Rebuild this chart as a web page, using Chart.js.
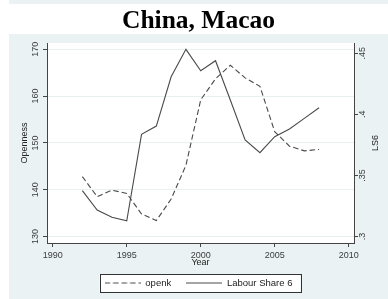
<!DOCTYPE html>
<html>
<head>
<meta charset="utf-8">
<script src="https://cdn.jsdelivr.net/npm/chart.js@4.4.0/dist/chart.umd.min.js"></script>
<style>
  html, body { margin: 0; padding: 0; background: #ffffff; }
  #c { display: block; }
</style>
</head>
<body>
<canvas id="c" width="388" height="299"></canvas>
<script>
// ---- data ----
const years = [1992, 1993, 1994, 1995, 1996, 1997, 1998, 1999, 2000, 2001, 2002, 2003, 2004, 2005, 2006, 2007, 2008];
const openk = [142.8, 138.5, 139.9, 139.2, 134.8, 133.4, 138.0, 145.2, 159.2, 163.7, 166.6, 163.9, 162.1, 152.4, 149.3, 148.3, 148.6];
const labourShare6 = [0.3375, 0.3217, 0.3157, 0.3129, 0.3836, 0.3904, 0.4308, 0.4532, 0.4357, 0.4439, 0.4117, 0.3790, 0.3686, 0.3817, 0.3880, 0.3967, 0.4054];
const xTicks = [1990, 1995, 2000, 2005, 2010];
const leftTicks = [130, 140, 150, 160, 170];
const rightTicks = [0.3, 0.35, 0.4, 0.45];
const seriesNames = ['openk', 'Labour Share 6'];
const titleText = 'China, Macao';
const xTitle = 'Year';
const leftTitle = 'Openness';
const rightTitle = 'LS6';

Chart.defaults.font.family = "'Liberation Sans', Arial, sans-serif";

const BG = '#eaf2f3';
const lineColor = '#4a4a4a';
const axisColor = '#444444';
const tickColor = '#3c3c3c';
const DASH = [5.5, 3];

function legendSample(dash) {
  const c = document.createElement('canvas');
  c.width = 36;
  c.height = 3;
  const g = c.getContext('2d');
  g.strokeStyle = lineColor;
  g.lineWidth = 1.1;
  g.setLineDash(dash);
  g.beginPath();
  g.moveTo(0, 1.5);
  g.lineTo(36, 1.5);
  g.stroke();
  return c;
}

const bgPlugin = {
  id: 'bg',
  beforeDraw(chart) {
    const ctx = chart.ctx;
    const W = chart.width, H = chart.height;
    const a = chart.chartArea;
    ctx.save();
    ctx.fillStyle = '#ffffff';
    ctx.fillRect(0, 0, W, H);
    ctx.fillStyle = BG;
    ctx.fillRect(9, 0, W - 9, 4);
    ctx.fillRect(9, 34, W - 9, H - 34);
    ctx.fillStyle = '#ffffff';
    ctx.fillRect(a.left, a.top, a.right - a.left, a.bottom - a.top);
    const lg = chart.legend;
    if (lg && lg.legendHitBoxes && lg.legendHitBoxes.length) {
      const hb = lg.legendHitBoxes;
      const l = hb[0].left - 5;
      const r = hb[hb.length - 1].left + hb[hb.length - 1].width + 8;
      const t = hb[0].top - 4;
      const b = hb[0].top + hb[0].height + 4;
      ctx.fillStyle = '#ffffff';
      ctx.fillRect(l, t, r - l, b - t);
      ctx.strokeStyle = '#333333';
      ctx.lineWidth = 1;
      ctx.strokeRect(Math.round(l) + 0.5, Math.round(t) + 0.5, Math.round(r - l), Math.round(b - t));
    }
    ctx.restore();
  },
  afterDraw(chart) {
    // right axis title, rotated like the left one
    const ctx = chart.ctx;
    const a = chart.chartArea;
    ctx.save();
    ctx.font = "9px 'Liberation Sans', Arial, sans-serif";
    ctx.fillStyle = '#222222';
    ctx.textAlign = 'center';
    ctx.textBaseline = 'middle';
    ctx.translate(376, (a.top + a.bottom) / 2);
    ctx.rotate(-Math.PI / 2);
    ctx.fillText(rightTitle, 0, 0);
    ctx.restore();
  }
};

const tickFont = { size: 9 };

new Chart(document.getElementById('c'), {
  type: 'line',
  data: {
    datasets: [
      {
        label: seriesNames[0],
        data: years.map((y, i) => ({ x: y, y: openk[i] })),
        yAxisID: 'y',
        borderColor: lineColor,
        backgroundColor: lineColor,
        borderWidth: 1.1,
        borderDash: DASH,
        pointRadius: 0,
        tension: 0,
        pointStyle: legendSample(DASH)
      },
      {
        label: seriesNames[1],
        data: years.map((y, i) => ({ x: y, y: labourShare6[i] })),
        yAxisID: 'y2',
        borderColor: lineColor,
        backgroundColor: lineColor,
        borderWidth: 1.1,
        pointRadius: 0,
        tension: 0,
        pointStyle: legendSample([])
      }
    ]
  },
  options: {
    responsive: false,
    animation: false,
    layout: { padding: { left: 9, right: 0, top: 0, bottom: 1.25 } },
    plugins: {
      title: {
        display: true,
        text: titleText,
        color: '#000000',
        font: { family: "'Liberation Serif', 'Times New Roman', serif", size: 25.5, weight: 'bold' },
        padding: { top: 6, bottom: 6.4 }
      },
      legend: {
        display: true,
        position: 'bottom',
        labels: {
          usePointStyle: true,
          pointStyleWidth: 36,
          color: '#222222',
          font: { size: 9.5 },
          padding: 15
        }
      },
      tooltip: { enabled: false }
    },
    scales: {
      x: {
        type: 'linear',
        min: 1989.61,
        max: 2010.36,
        afterBuildTicks(s) { s.ticks = xTicks.map(v => ({ value: v })); },
        afterFit(s) { s.height = 20.25; },
        ticks: { font: tickFont, color: tickColor, padding: 3, maxRotation: 0, callback: v => String(v) },
        grid: { drawOnChartArea: false, tickLength: 4, tickColor: axisColor },
        border: { color: axisColor, width: 1 },
        title: { display: true, text: xTitle, color: '#222222', font: { size: 9 }, padding: { top: 0, bottom: -4.85 } }
      },
      y: {
        type: 'linear',
        position: 'left',
        min: 128.6,
        max: 171.35,
        afterBuildTicks(s) { s.ticks = leftTicks.map(v => ({ value: v })); },
        afterFit(s) { s.width = 38; },
        ticks: { font: tickFont, color: tickColor, minRotation: 90, maxRotation: 90, crossAlign: 'center', padding: 0 },
        grid: { color: '#e9f0f0', lineWidth: 1, tickLength: 4, tickColor: axisColor },
        border: { color: axisColor, width: 1 },
        title: { display: true, text: leftTitle, color: '#222222', font: { size: 9 }, padding: { top: 10.3, bottom: 0 } }
      },
      y2: {
        type: 'linear',
        position: 'right',
        min: 0.2947,
        max: 0.4584,
        afterBuildTicks(s) { s.ticks = rightTicks.map(v => ({ value: v })); },
        afterFit(s) { s.width = 34; },
        ticks: { font: tickFont, color: tickColor, minRotation: 90, maxRotation: 90, crossAlign: 'center', padding: -2,
                 callback: v => String(v).replace(/^0/, '') },
        grid: { drawOnChartArea: false, tickLength: 4, tickColor: axisColor },
        border: { color: axisColor, width: 1 },
        title: { display: false }
      }
    }
  },
  plugins: [bgPlugin]
});
</script>
</body>
</html>
